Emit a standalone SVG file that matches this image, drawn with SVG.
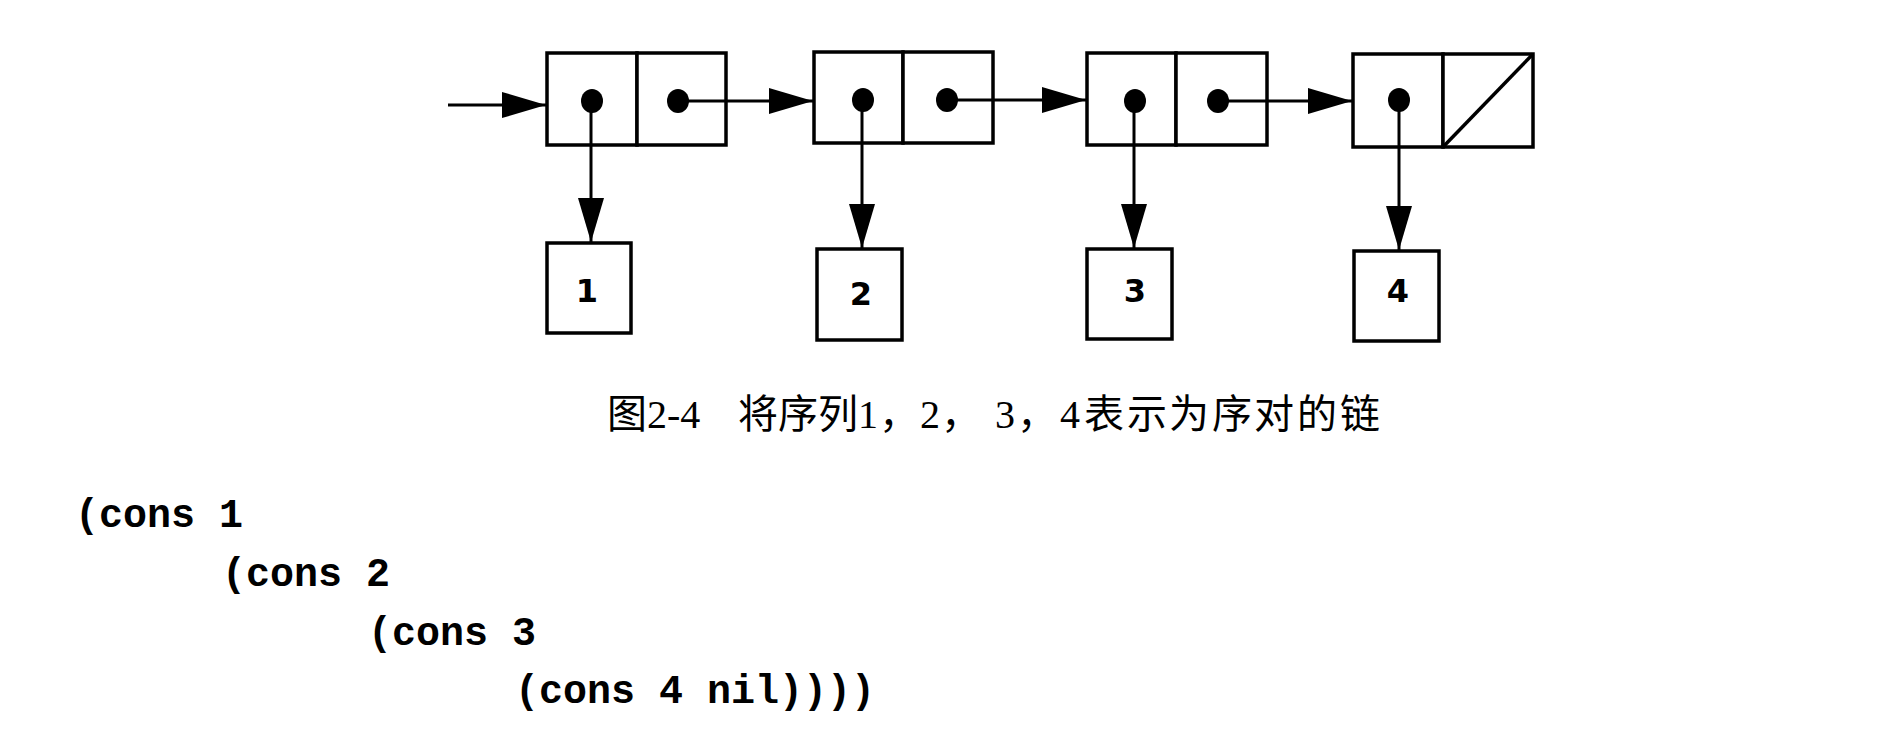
<svg xmlns="http://www.w3.org/2000/svg" width="1878" height="736" viewBox="0 0 1878 736">
  <style>
    .cell { fill: #ffffff; stroke: #000000; stroke-width: 3.5; }
    .line { fill: none; stroke: #000000; stroke-width: 3.5; }
    .dot { fill: #000000; }
    .conn { fill: none; stroke: #000000; stroke-width: 3; marker-end: url(#arrow); }
    .val { font-family: "DejaVu Sans", "Liberation Sans", sans-serif; font-size: 32px; font-weight: bold; text-anchor: middle; fill: #000000; }
    .cap { font-family: "Liberation Serif", "Noto Sans CJK SC", serif; font-size: 40px; fill: #000000; }
    .code { font-family: "Liberation Mono", monospace; font-size: 40px; font-weight: bold; fill: #000000; white-space: pre; }
  </style>
  <defs>
    <marker id="arrow" markerUnits="userSpaceOnUse" markerWidth="46" markerHeight="28" refX="44" refY="13" orient="auto">
      <path d="M0,0 L44,13 L0,26 Z" fill="#000000"/>
    </marker>
  </defs>
  <rect width="1878" height="736" fill="#ffffff"/>

  <!-- cons cells -->
  <g id="pair1">
    <rect class="cell" x="547" y="53" width="90" height="92"/>
    <rect class="cell" x="637" y="53" width="89" height="92"/>
    <ellipse class="dot" cx="592" cy="101" rx="11" ry="12"/>
    <ellipse class="dot" cx="678" cy="101" rx="11" ry="12"/>
  </g>
  <g id="pair2">
    <rect class="cell" x="814" y="52" width="89" height="91"/>
    <rect class="cell" x="903" y="52" width="90" height="91"/>
    <ellipse class="dot" cx="863" cy="100" rx="11" ry="12"/>
    <ellipse class="dot" cx="947" cy="100" rx="11" ry="12"/>
  </g>
  <g id="pair3">
    <rect class="cell" x="1087" y="53" width="89" height="92"/>
    <rect class="cell" x="1176" y="53" width="91" height="92"/>
    <ellipse class="dot" cx="1135" cy="101" rx="11" ry="12"/>
    <ellipse class="dot" cx="1218" cy="101" rx="11" ry="12"/>
  </g>
  <g id="pair4">
    <rect class="cell" x="1353" y="54" width="90" height="93"/>
    <rect class="cell" x="1443" y="54" width="90" height="93"/>
    <line class="line" x1="1443" y1="147" x2="1533" y2="54"/>
    <ellipse class="dot" cx="1399" cy="100" rx="11" ry="12"/>
  </g>

  <!-- value boxes -->
  <g id="val1">
    <rect class="cell" x="547" y="243" width="84" height="90"/>
    <text class="val" x="587" y="302">1</text>
  </g>
  <g id="val2">
    <rect class="cell" x="817" y="249" width="85" height="91"/>
    <text class="val" x="861" y="305">2</text>
  </g>
  <g id="val3">
    <rect class="cell" x="1087" y="249" width="85" height="90"/>
    <text class="val" x="1135" y="302">3</text>
  </g>
  <g id="val4">
    <rect class="cell" x="1354" y="251" width="85" height="90"/>
    <text class="val" x="1398" y="302">4</text>
  </g>

  <!-- connectors -->
  <g id="connectors">
    <line class="conn" x1="448" y1="105" x2="546" y2="105"/>
    <line class="conn" x1="678" y1="101" x2="813" y2="101"/>
    <line class="conn" x1="947" y1="100" x2="1086" y2="100"/>
    <line class="conn" x1="1218" y1="101" x2="1352" y2="101"/>
    <line class="conn" x1="591" y1="101" x2="591" y2="242"/>
    <line class="conn" x1="862" y1="100" x2="862" y2="248"/>
    <line class="conn" x1="1134" y1="101" x2="1134" y2="248"/>
    <line class="conn" x1="1399" y1="100" x2="1399" y2="250"/>
  </g>

  <!-- caption -->
  <text id="caption" class="cap" y="428"><tspan x="607">图2-4</tspan><tspan x="738">将序列1</tspan><tspan x="879">，</tspan><tspan x="920">2</tspan><tspan x="941">，</tspan><tspan x="995">3</tspan><tspan x="1017">，</tspan><tspan x="1060">4</tspan><tspan x="1084 1127 1169 1212 1254 1297 1340">表示为序对的链</tspan></text>

  <!-- code -->
  <g id="code">
    <text class="code" x="75" y="527">(cons 1</text>
    <text class="code" x="222" y="586">(cons 2</text>
    <text class="code" x="368" y="645">(cons 3</text>
    <text class="code" x="515" y="703">(cons 4 nil))))</text>
  </g>
</svg>
